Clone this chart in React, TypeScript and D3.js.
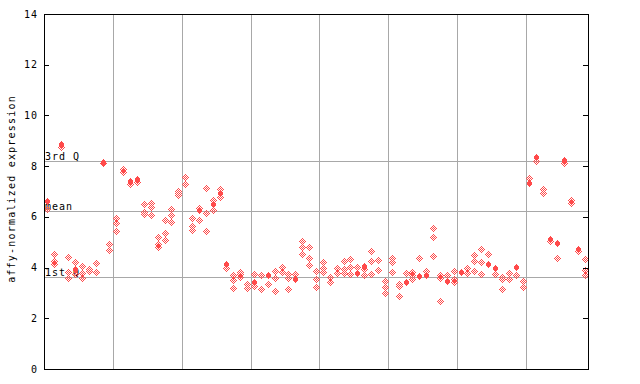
import React from 'react';
import * as d3 from 'd3';

// ---- data ----
const yTicks = [0, 2, 4, 6, 8, 10, 12, 14];
const quartileLabels = ['3rd Q', 'mean', '1st Q'];
const quartileValues = [8.21, 6.23, 3.62];
const columnCount = 79;
const groupBreaks = [10, 20, 30, 40, 50, 60, 70];

// values per sample column
const sampleValues: number[][] = [
  [6.62, 6.31], [4.52, 4.27, 4.13], [8.87, 8.74], [4.4, 3.81, 3.6], [4.22, 3.93, 3.75],
  [4.06, 3.8, 3.59], [3.95, 3.87], [4.17, 3.81], [8.18, 8.12], [4.92, 4.69],
  [5.94, 5.74, 5.44], [7.88, 7.78], [7.43, 7.28], [7.49, 7.36], [6.51, 6.2, 6.1],
  [6.56, 6.37, 6.07], [5.19, 4.93, 4.83], [5.87, 5.35, 5.07], [6.31, 6.07, 5.78], [7.02, 6.93, 6.86],
  [7.56, 7.28], [5.97, 5.64, 5.49], [6.36, 6.27, 5.87], [7.12, 6.14, 5.44], [6.66, 6.5, 6.26],
  [7.08, 6.93, 6.8], [4.15, 3.97], [3.69, 3.5, 3.18], [3.81, 3.73, 3.63], [3.35, 3.2],
  [3.73, 3.42, 3.29], [3.69, 3.14], [3.72, 3.34], [3.85, 3.58, 3.06], [4.02, 3.81],
  [3.73, 3.57, 3.14], [3.73, 3.56], [5.03, 4.8, 4.52], [4.8, 4.37, 4.09], [3.85, 3.54, 3.22],
  [4.21, 4.0, 3.81], [3.62, 3.42], [3.99, 3.77], [4.24, 3.94, 3.77], [4.33, 4.03, 3.74],
  [4.03, 3.77], [4.06, 3.93, 3.7], [4.65, 4.24, 3.73], [4.3, 3.9], [3.46, 3.22, 2.98],
  [4.37, 4.21, 3.81], [3.36, 3.26, 2.88], [3.77, 3.44], [3.81, 3.69, 3.56], [4.37, 3.68],
  [3.85, 3.72], [5.58, 5.19, 4.44], [3.72, 3.58, 2.67], [3.72, 3.48], [3.85, 3.54, 3.44],
  [3.84], [3.98, 3.8], [4.48, 4.26, 3.85], [4.73, 4.21, 3.73], [4.52, 4.15],
  [4.0, 3.73], [3.64, 3.54, 3.14], [3.77, 3.54], [4.04, 3.69], [3.46, 3.22],
  [7.52, 7.35], [8.37, 8.21], [7.1, 6.93], [5.13, 5.05], [4.97, 4.38],
  [8.23, 8.11], [6.66, 6.56], [4.73, 4.65], [4.33, 3.9, 3.72],
];

// marker kind per value: s = solid, d = dotted
const sampleKinds: string[][] = [
  ['s', 'd'], ['d', 'd', 'd'], ['s', 'd'], ['d', 'd', 'd'], ['d', 's', 'd'],
  ['d', 'd', 'd'], ['d', 'd'], ['d', 'd'], ['s', 'd'], ['d', 'd'],
  ['d', 'd', 'd'], ['d', 'd'], ['s', 'd'], ['s', 'd'], ['d', 'd', 'd'],
  ['d', 'd', 'd'], ['d', 'd', 'd'], ['d', 'd', 'd'], ['d', 'd', 'd'], ['d', 'd', 'd'],
  ['d', 'd'], ['d', 'd', 'd'], ['d', 's', 'd'], ['d', 'd', 'd'], ['d', 's', 'd'],
  ['d', 's', 'd'], ['s', 'd'], ['d', 'd', 'd'], ['d', 'd', 'd'], ['d', 'd'],
  ['d', 's', 'd'], ['d', 'd'], ['s', 'd'], ['d', 'd', 'd'], ['d', 'd'],
  ['d', 'd', 'd'], ['d', 's'], ['d', 'd', 'd'], ['d', 'd', 'd'], ['d', 'd', 'd'],
  ['d', 'd', 'd'], ['d', 'd'], ['d', 'd'], ['d', 'd', 'd'], ['d', 'd', 'd'],
  ['d', 's'], ['s', 'd', 'd'], ['d', 'd', 'd'], ['d', 'd'], ['d', 'd', 'd'],
  ['d', 'd', 'd'], ['d', 'd', 'd'], ['d', 's'], ['d', 'd', 'd'], ['d', 's'],
  ['d', 's'], ['d', 'd', 'd'], ['d', 'd', 'd'], ['d', 's'], ['d', 'd', 'd'],
  ['s'], ['d', 'd'], ['d', 'd', 'd'], ['d', 'd', 'd'], ['d', 's'],
  ['s', 'd'], ['d', 'd', 'd'], ['d', 'd'], ['s', 'd'], ['d', 'd'],
  ['d', 's'], ['s', 'd'], ['d', 'd'], ['s', 'd'], ['s', 'd'],
  ['s', 'd'], ['d', 'd'], ['s', 'd'], ['d', 'd', 'd'],
];

// ---- layout ----
const W = 640;
const H = 384;
const left = 44;
const right = 588;
const top = 14;
const bottom = 369;
const FONT = '"DejaVu Sans Mono", monospace';
const RED = '#ff4a4a';
const GRID = '#a8a8a8';

function dottedPath(cx: number, cy: number): string {
  let s = '';
  for (let dy = -3; dy <= 3; dy++) {
    for (let dx = -3; dx <= 3; dx++) {
      const d = Math.abs(dx) + Math.abs(dy);
      if (d === 1 || d === 3) s += `M${cx + dx},${cy + dy}h1v1h-1z`;
    }
  }
  return s;
}

function solidPath(cx: number, cy: number): string {
  let s = '';
  for (let dy = -3; dy <= 3; dy++) {
    const half = Math.min(2, 3 - Math.abs(dy));
    s += `M${cx - half},${cy + dy}h${2 * half + 1}v1h${-(2 * half + 1)}z`;
  }
  return s;
}

export default function App() {
  const x = d3.scaleLinear().domain([0, columnCount]).range([left, right]);
  const y = d3.scaleLinear().domain([0, 14]).range([bottom, top]);
  const px = (v: number) => Math.round(v) + 0.5;

  const points: { cx: number; cy: number; kind: string }[] = [];
  sampleValues.forEach((vals, i) => {
    vals.forEach((v, j) => {
      points.push({ cx: Math.round(x(i + 0.5)), cy: Math.round(y(v)), kind: sampleKinds[i][j] });
    });
  });
  const dotted = points.filter((p) => p.kind === 'd').map((p) => dottedPath(p.cx, p.cy)).join('');
  const solid = points.filter((p) => p.kind === 's').map((p) => solidPath(p.cx, p.cy)).join('');

  return (
    <svg width={W} height={H} style={{ position: 'fixed', left: 0, top: 0, background: '#fff' }}>
      <rect x={0} y={0} width={W} height={H} fill="#fff" />
      {/* vertical group lines */}
      {groupBreaks.map((b) => (
        <line key={b} x1={px(x(b))} x2={px(x(b))} y1={top} y2={bottom} stroke={GRID} strokeWidth={1} />
      ))}
      {/* quartile lines */}
      {quartileValues.map((q, i) => (
        <line key={i} x1={left} x2={right} y1={px(y(q))} y2={px(y(q))} stroke={GRID} strokeWidth={1} />
      ))}
      {/* quartile labels */}
      {quartileLabels.map((lab, i) => (
        <text
          key={lab}
          x={45}
          y={Math.round(y(quartileValues[i])) - 1}
          fontFamily={FONT}
          fontSize={10}
          letterSpacing={1}
          fill="#000"
        >
          {lab}
        </text>
      ))}
      {/* points */}
      <path d={dotted} fill={RED} shapeRendering="crispEdges" />
      <path d={solid} fill={RED} shapeRendering="crispEdges" />
      {/* frame */}
      <line x1={px(left)} x2={px(left)} y1={top} y2={bottom + 1} stroke="#000" />
      <line x1={px(right)} x2={px(right)} y1={top} y2={bottom + 1} stroke="#000" />
      <line x1={left} x2={right + 1} y1={px(top)} y2={px(top)} stroke="#000" />
      <line x1={left} x2={right + 1} y1={px(bottom)} y2={px(bottom)} stroke="#000" />
      {/* ticks */}
      {yTicks.map((t) => (
        <g key={t}>
          <line x1={left} x2={left + 5} y1={px(y(t))} y2={px(y(t))} stroke="#000" />
          <line x1={right - 5} x2={right} y1={px(y(t))} y2={px(y(t))} stroke="#000" />
          <text
            x={38}
            y={y(t)}
            dy="0.35em"
            textAnchor="end"
            fontFamily={FONT}
            fontSize={10}
            letterSpacing={1}
            fill="#000"
          >
            {t}
          </text>
        </g>
      ))}
      {/* y axis title */}
      <text
        transform={`translate(15,189) rotate(-90)`}
        textAnchor="middle"
        fontFamily={FONT}
        fontSize={10}
        letterSpacing={1.2}
        fill="#000"
      >
        affy-normalized expression
      </text>
    </svg>
  );
}
